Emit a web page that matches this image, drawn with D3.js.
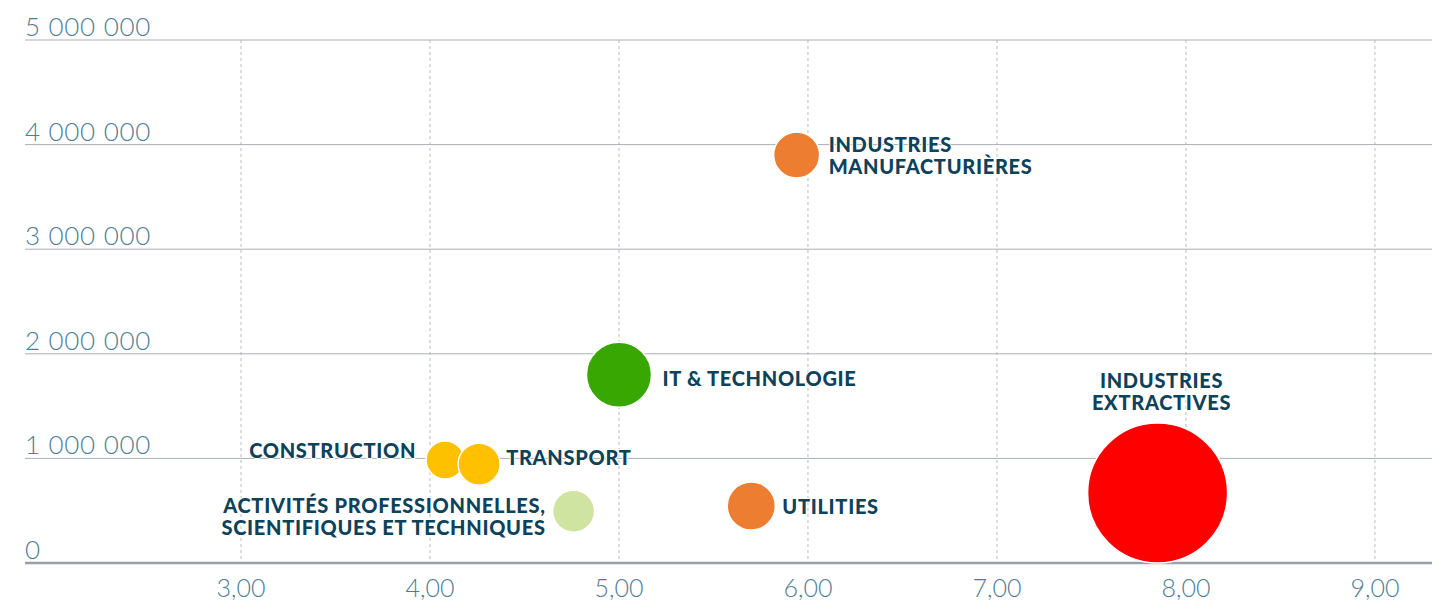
<!DOCTYPE html>
<html>
<head>
<meta charset="utf-8">
<script src="https://cdn.jsdelivr.net/npm/d3@7"></script>
<style>
  body { margin: 0; background: #fff; }
  svg { display: block; }
</style>
</head>
<body>
<div id="chart"></div>
<script>
// data
let sectors = [
  ["INDUSTRIES", "MANUFACTURIÈRES"],
  ["IT & TECHNOLOGIE"],
  ["CONSTRUCTION"],
  ["TRANSPORT"],
  ["ACTIVITÉS PROFESSIONNELLES,", "SCIENTIFIQUES ET TECHNIQUES"],
  ["UTILITIES"],
  ["INDUSTRIES", "EXTRACTIVES"]
];
let xValues = [5.94, 5.00, 4.08, 4.26, 4.76, 5.70, 7.85];
let yValues = [3900000, 1800000, 985000, 945000, 495000, 545000, 670000];
let sizes = [10.8, 21.6, 7.4, 9.0, 9.0, 11.8, 100];
let colors = ["#ed7d31", "#38a702", "#ffc000", "#ffc000", "#cfe4a0", "#ed7d31", "#ff0000"];

let xTicks = [3, 4, 5, 6, 7, 8, 9];
let yTicks = [0, 1000000, 2000000, 3000000, 4000000, 5000000];

// label placement: side of the bubble, gap from the bubble edge, baseline shift
let labelSide = ["right", "right", "left", "right", "left", "right", "top"];
let labelGap = [9, 11, 10, 6, 7, 7, 13];
let labelDy = [-3, 11, -2, 1, 2, 8, 0];

let W = 1442, H = 603;
let margin = { left: 25, right: 1432, top: 40, bottom: 563 };

let svg = d3.select("#chart").append("svg")
  .attr("width", W)
  .attr("height", H);

let x = d3.scaleLinear().domain([1.857, 9.302]).range([margin.left, margin.right]);
let y = d3.scaleLinear().domain([0, 5000000]).range([margin.bottom, margin.top]);
let r = d3.scaleSqrt().domain([0, d3.max(sizes)]).range([0, 70]);

let fmtY = function(v) { return d3.format(",")(v).replace(/,/g, " "); };
let fmtX = function(v) { return v.toFixed(2).replace(".", ","); };

// vertical dashed grid
svg.append("g")
  .selectAll("line")
  .data(xTicks)
  .enter()
  .append("line")
  .attr("x1", d => x(d)).attr("x2", d => x(d))
  .attr("y1", margin.top).attr("y2", margin.bottom)
  .attr("stroke", "#b9bcc2")
  .attr("stroke-width", 1)
  .attr("stroke-dasharray", "3,3");

// horizontal grid
svg.append("g")
  .selectAll("line")
  .data(yTicks.filter(d => d > 0))
  .enter()
  .append("line")
  .attr("x1", margin.left).attr("x2", margin.right)
  .attr("y1", d => y(d)).attr("y2", d => y(d))
  .attr("stroke", "#a9aeb6")
  .attr("stroke-width", 1);

// bottom axis line
svg.append("line")
  .attr("x1", margin.left).attr("x2", margin.right)
  .attr("y1", y(0)).attr("y2", y(0))
  .attr("stroke", "#9a9ea8")
  .attr("stroke-width", 2.5);

// y tick labels
svg.append("g")
  .selectAll("text")
  .data(yTicks)
  .enter()
  .append("text")
  .attr("x", margin.left)
  .attr("y", d => y(d) - 4)
  .attr("font-family", "Lato")
  .attr("font-weight", 300)
  .attr("font-size", 26)
  .attr("letter-spacing", 0.7)
  .attr("fill", "#4d7d96")
  .text(fmtY);

// x tick labels
svg.append("g")
  .selectAll("text")
  .data(xTicks)
  .enter()
  .append("text")
  .attr("x", d => x(d))
  .attr("y", 597)
  .attr("text-anchor", "middle")
  .attr("font-family", "Lato")
  .attr("font-weight", 300)
  .attr("font-size", 25)
  .attr("fill", "#4d7d96")
  .text(fmtX);

let points = sectors.map(function(s, i) {
  return {
    name: s, x: xValues[i], y: yValues[i], size: sizes[i], color: colors[i],
    side: labelSide[i], gap: labelGap[i], dy: labelDy[i]
  };
});

// bubbles
svg.append("g")
  .selectAll("circle")
  .data(points)
  .enter()
  .append("circle")
  .attr("cx", d => x(d.x))
  .attr("cy", d => y(d.y))
  .attr("r", d => r(d.size))
  .attr("fill", d => d.color)
  .attr("stroke", "#fff")
  .attr("stroke-width", 1.5);

// labels
let lineH = 22;
svg.append("g")
  .selectAll("text")
  .data(points)
  .enter()
  .append("text")
  .attr("font-family", "Lato")
  .attr("font-weight", 900)
  .attr("font-size", 20)
  .attr("letter-spacing", 0.7)
  .attr("fill", "#0d425a")
  .attr("stroke", "#fff")
  .attr("stroke-width", 2)
  .attr("paint-order", "stroke")
  .attr("text-anchor", function(d) {
    if (d.side == "left") return "end";
    if (d.side == "top") return "middle";
    return "start";
  })
  .each(function(d) {
    let cx = x(d.x), cy = y(d.y), rad = r(d.size);
    let n = d.name.length;
    let tx, ty;
    if (d.side == "right") {
      tx = cx + rad + d.gap;
      ty = cy + d.dy;
    }
    else if (d.side == "left") {
      tx = cx - rad - d.gap;
      ty = cy + d.dy;
    }
    else {
      tx = cx + 4;
      ty = cy - rad - d.gap - (n - 1) * lineH + d.dy;
    }
    let t = d3.select(this);
    d.name.forEach(function(line, k) {
      t.append("tspan")
        .attr("x", tx)
        .attr("y", ty + k * lineH)
        .text(line);
    });
  });
</script>
</body>
</html>
